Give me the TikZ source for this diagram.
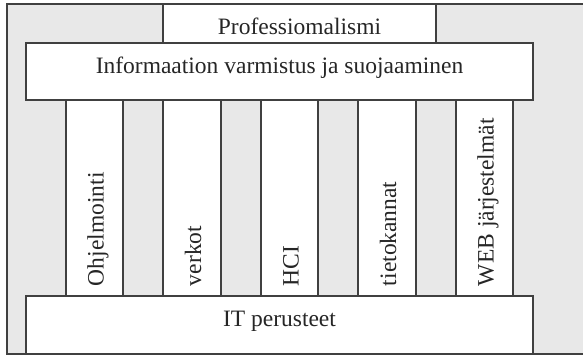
\documentclass[tikz,border=0pt]{standalone}
\usepackage{fontspec}
\setmainfont{Liberation Serif}
\usetikzlibrary{calc}
\definecolor{bgc}{HTML}{E8E8E8}
\definecolor{linec}{HTML}{404040}
\tikzset{
  box/.style={draw=linec, line width=1.2pt, fill=white, anchor=north west, inner sep=0pt, outer sep=0pt},
  lbl/.style={inner sep=0pt, outer sep=0pt, font=\fontsize{23.5}{28}\selectfont, text=black!85},
}
\begin{document}
\begin{tikzpicture}[x=1pt,y=-1pt]
\useasboundingbox (0,0) rectangle (583,355);
% background panel
\path[fill=bgc] (7,4) rectangle (590,354);
\coordinate (tr) at (590,4);
\coordinate (tl) at (7,4);
\coordinate (bl) at (7,354);
\coordinate (br) at (590,354);
\draw[linec, line width=1.2pt] (tr) -- (tl) -- (bl) -- (br);
% boxes
\node[box, minimum width=273pt, minimum height=39pt] (prof) at (163,4) {};
\node[box, minimum width=507pt, minimum height=57pt] (info) at (26,43) {};
\node[box, minimum width=57pt, minimum height=196pt] (p1) at (66,100) {};
\node[box, minimum width=58pt, minimum height=196pt] (p2) at (163,100) {};
\node[box, minimum width=57pt, minimum height=196pt] (p3) at (261,100) {};
\node[box, minimum width=58pt, minimum height=196pt] (p4) at (358,100) {};
\node[box, minimum width=57pt, minimum height=196pt] (p5) at (456,100) {};
\node[box, minimum width=507pt, minimum height=58pt] (it) at (26,296) {};
% labels
\node[lbl, anchor=base] (tprof) at (prof.center |- 0,34.3) {Professiomalismi};
\node[lbl, anchor=base] (tinfo) at (info.center |- 0,74) {Informaation varmistus ja suojaaminen};
\node[lbl, anchor=base] (tit) at (it.center |- 0,326.7) {IT perusteet};
\node[lbl, rotate=90, anchor=base west] (t1) at ($(p1.south)+(9,-10)$) {Ohjelmointi};
\node[lbl, rotate=90, anchor=base west] (t2) at ($(p2.south)+(9,-10)$) {verkot};
\node[lbl, rotate=90, anchor=base west] (t3) at ($(p3.south)+(9,-10)$) {HCI};
\node[lbl, rotate=90, anchor=base west] (t4) at ($(p4.south)+(9,-10)$) {tietokannat};
\node[lbl, rotate=90, anchor=base west] (t5) at ($(p5.south)+(9,-10)$) {WEB järjestelmät};
\end{tikzpicture}
\end{document}
